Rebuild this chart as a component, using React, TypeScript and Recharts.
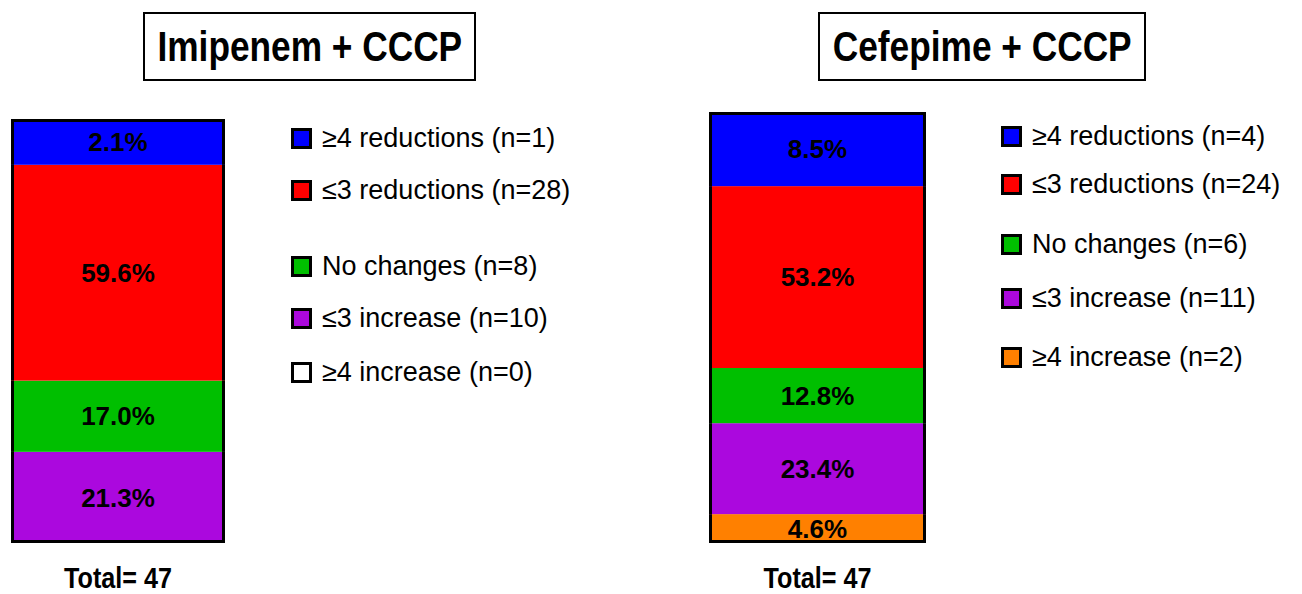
import { BarChart, Bar, XAxis, YAxis, Legend, LabelList } from "recharts";

// categories, top of the legend first
const categories = [
  "≥4 reductions",
  "≤3 reductions",
  "No changes",
  "≤3 increase",
  "≥4 increase",
];
const keys = ["red4", "red3", "none", "inc3", "inc4"];
const colors = ["#0000FF", "#FF0000", "#00BF00", "#AB08DE", "#FF8000"];

// Imipenem + CCCP
const imipenemCounts = [1, 28, 8, 10, 0];
const imipenemPct = [2.1, 59.6, 17.0, 21.3, 0];
// share of the bar height each segment takes in the figure (not to scale with pct)
const imipenemDrawn = [10.8, 50.9, 16.8, 21.5, 0];

// Cefepime + CCCP
const cefepimeCounts = [4, 24, 6, 11, 2];
const cefepimePct = [8.5, 53.2, 12.8, 23.4, 4.6];
const cefepimeDrawn = [17.2, 42.2, 12.8, 21.1, 6.7];

const FONT = "'Liberation Sans', Arial, Helvetica, sans-serif";

function segShape(isTop: boolean, isBottom: boolean) {
  return (p: any) => {
    const { x, y, width, height, fill } = p;
    if (!height || height <= 0) return <g />;
    const l = x + 1.5;
    const r = x + width - 1.5;
    return (
      <g>
        <rect x={x} y={y} width={width} height={height} fill={fill} />
        <line x1={l} y1={y} x2={l} y2={y + height} stroke="#000" strokeWidth={3} />
        <line x1={r} y1={y} x2={r} y2={y + height} stroke="#000" strokeWidth={3} />
        {isTop && (
          <line x1={x} y1={y + 1.5} x2={x + width} y2={y + 1.5} stroke="#000" strokeWidth={3} />
        )}
        {isBottom && (
          <line
            x1={x}
            y1={y + height - 1.5}
            x2={x + width}
            y2={y + height - 1.5}
            stroke="#000"
            strokeWidth={3}
          />
        )}
      </g>
    );
  };
}

function TotalTick(props: any) {
  const { x, y, payload } = props;
  return (
    <g transform={`translate(${x},${y})`}>
      <text
        x={0}
        y={0}
        dy={45}
        textAnchor="middle"
        transform="scale(0.84,1)"
        fontFamily={FONT}
        fontWeight="bold"
        fontSize={30}
        fill="#000"
      >
        {payload.value}
      </text>
    </g>
  );
}

type PanelProps = {
  title: string;
  counts: number[];
  pct: number[];
  drawn: number[];
  left: number;
  width: number;
  barLeft: number;
  barRight: number;
  barTop: number;
  titleLeft: number;
  titleWidth: number;
  legendLeft: number;
  rowCenters: number[];
  emptyFill: string;
};

function Panel(p: PanelProps) {
  const total = p.counts.reduce((a, b) => a + b, 0);
  const row: any = { name: `Total= ${total}` };
  keys.forEach((k, i) => (row[k] = p.drawn[i]));
  const sum = p.drawn.reduce((a, b) => a + b, 0);

  // stack bottom -> top
  const order = [4, 3, 2, 1, 0];
  const nonZero = order.filter((i) => p.drawn[i] > 0);
  const bottomIdx = nonZero[0];
  const topIdx = nonZero[nonZero.length - 1];

  const renderLegend = () => (
    <div style={{ position: "relative", fontFamily: FONT, fontSize: 27, color: "#000" }}>
      {categories.map((c, i) => {
        const fill = p.counts[i] === 0 ? p.emptyFill : colors[i];
        return (
          <div
            key={c}
            style={{
              position: "absolute",
              left: 0,
              top: p.rowCenters[i] - 16,
              height: 32,
              display: "flex",
              alignItems: "center",
              whiteSpace: "nowrap",
            }}
          >
            <span
              style={{
                display: "inline-block",
                width: 21,
                height: 21,
                boxSizing: "border-box",
                border: "3px solid #000",
                background: fill,
                marginRight: 10,
              }}
            />
            <span>{`${c} (n=${p.counts[i]})`}</span>
          </div>
        );
      })}
    </div>
  );

  return (
    <div style={{ position: "absolute", left: p.left, top: 0, width: p.width, height: 594 }}>
      <div
        style={{
          position: "absolute",
          left: p.titleLeft - p.left,
          top: 12,
          width: p.titleWidth,
          height: 69,
          boxSizing: "border-box",
          border: "2px solid #000",
          display: "flex",
          alignItems: "center",
          justifyContent: "center",
          fontFamily: FONT,
          fontWeight: "bold",
          fontSize: 43,
          whiteSpace: "nowrap",
          zIndex: 2,
        }}
      >
        <span style={{ display: "inline-block", transform: "scaleX(0.82)" }}>{p.title}</span>
      </div>
      <BarChart
        width={p.width}
        height={594}
        data={[row]}
        barCategoryGap={0}
        margin={{
          top: p.barTop,
          left: p.barLeft - p.left,
          right: p.width - (p.barRight - p.left),
          bottom: 11,
        }}
      >
        <XAxis
          dataKey="name"
          height={40}
          axisLine={false}
          tickLine={false}
          tickSize={0}
          tickMargin={0}
          tick={<TotalTick />}
          interval={0}
        />
        <YAxis hide type="number" domain={[0, sum]} />
        <Legend
          layout="horizontal"
          align="center"
          verticalAlign="middle"
          content={renderLegend}
          wrapperStyle={{ left: p.legendLeft - p.left, top: 0, width: 360, height: 1 }}
        />
        {order.map((i) => (
          <Bar
            key={keys[i]}
            dataKey={keys[i]}
            name={categories[i]}
            stackId="a"
            fill={p.counts[i] === 0 ? p.emptyFill : colors[i]}
            isAnimationActive={false}
            shape={segShape(i === topIdx, i === bottomIdx)}
          >
            {p.drawn[i] > 0 && (
              <LabelList
                dataKey={keys[i]}
                position="center"
                formatter={() => `${p.pct[i].toFixed(1)}%`}
                fill="#000"
                fontFamily={FONT}
                fontWeight="bold"
                fontSize={26}
              />
            )}
          </Bar>
        ))}
      </BarChart>
    </div>
  );
}

export default function App() {
  return (
    <div
      style={{
        position: "absolute",
        left: 0,
        top: 0,
        width: 1302,
        height: 594,
        background: "#fff",
        overflow: "hidden",
      }}
    >
      <Panel
        title="Imipenem + CCCP"
        counts={imipenemCounts}
        pct={imipenemPct}
        drawn={imipenemDrawn}
        left={0}
        width={650}
        barLeft={11}
        barRight={225}
        barTop={119}
        titleLeft={143}
        titleWidth={333}
        legendLeft={291}
        rowCenters={[138, 190, 266, 318, 372]}
        emptyFill="#FFFFFF"
      />
      <Panel
        title="Cefepime + CCCP"
        counts={cefepimeCounts}
        pct={cefepimePct}
        drawn={cefepimeDrawn}
        left={650}
        width={652}
        barLeft={709}
        barRight={926}
        barTop={112}
        titleLeft={818}
        titleWidth={328}
        legendLeft={1001}
        rowCenters={[136, 184, 244, 298, 357]}
        emptyFill="#FFFFFF"
      />
    </div>
  );
}
